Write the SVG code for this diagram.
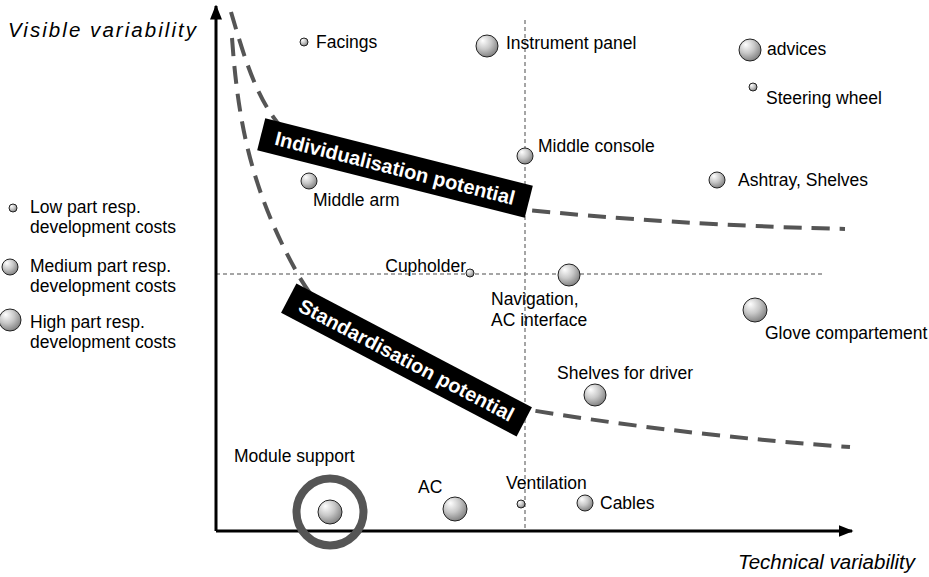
<svg xmlns="http://www.w3.org/2000/svg" width="929" height="577" viewBox="0 0 929 577">
<defs>
<radialGradient id="ball" cx="0.4" cy="0.35" r="0.7" fx="0.3" fy="0.25">
<stop offset="0" stop-color="#ffffff"/>
<stop offset="0.5" stop-color="#c8c8c8"/>
<stop offset="1" stop-color="#7a7a7a"/>
</radialGradient>
<marker id="arr" viewBox="0 0 10 10" refX="9" refY="5" markerWidth="5" markerHeight="5" orient="auto" markerUnits="strokeWidth">
<path d="M0,1 L10,5 L0,9 Z" fill="#000"/>
</marker>
<style>
.b{fill:url(#ball);stroke:#222;stroke-width:1}
.t{font-family:"Liberation Sans",Arial,sans-serif;font-size:17.5px;fill:#000}
.ax{font-family:"Liberation Sans",Arial,sans-serif;font-size:20.5px;font-style:italic;fill:#000}
.lbl{font-family:"Liberation Sans",Arial,sans-serif;font-size:20px;font-weight:bold;fill:#fff}
.dot{stroke:#888;stroke-width:1.5;stroke-dasharray:4 3;fill:none}
.dash{stroke:#555;stroke-width:4;stroke-dasharray:18 10;fill:none}
.axis{stroke:#000;stroke-width:3;fill:none}
</style>
</defs>
<rect width="929" height="577" fill="#fff"/>

<g id="connectors">
<line class="dot" x1="525" y1="20" x2="525" y2="531"/>
<line class="dot" x1="216" y1="274" x2="822" y2="274"/>
<path class="dash" d="M231,12 C245,60 256,95 277,122 C300,150 420,185 527,210 C650,222 760,227 845,229"/>
<path class="dash" d="M232,38 C238,120 250,190 300,278 C350,360 430,395 530,410 C640,428 750,440 850,447"/>
<line class="axis" x1="216" y1="531" x2="216" y2="6" marker-end="url(#arr)"/>
<line class="axis" x1="216" y1="531" x2="852" y2="531" marker-end="url(#arr)"/>
</g>

<g id="axis-titles">
<text class="ax" x="8" y="37" font-size="21.5" textLength="188" lengthAdjust="spacing">Visible variability</text>
<text class="ax" x="738" y="569">Technical variability</text>
</g>

<g id="individualisation">
<g transform="translate(395,168) rotate(14.2)">
<rect x="-138" y="-16.5" width="276" height="33" fill="#000"/>
<text class="lbl" x="0" y="7" text-anchor="middle">Individualisation potential</text>
</g>
</g>

<g id="standardisation">
<g transform="translate(406.5,360) rotate(27.7)">
<rect x="-133" y="-16.5" width="266" height="33" fill="#000"/>
<text class="lbl" x="0" y="7" text-anchor="middle">Standardisation potential</text>
</g>
</g>

<g id="legend">
<circle class="b" cx="13" cy="208" r="4"/>
<text class="t" x="30" y="213">Low part resp.</text>
<text class="t" x="30" y="233">development costs</text>
<circle class="b" cx="10" cy="267" r="8"/>
<text class="t" x="30" y="272">Medium part resp.</text>
<text class="t" x="30" y="292">development costs</text>
<circle class="b" cx="10" cy="320" r="11"/>
<text class="t" x="30" y="328">High part resp.</text>
<text class="t" x="30" y="348">development costs</text>
</g>

<g id="facings"><circle class="b" cx="304" cy="42" r="4"/><text class="t" x="316" y="48">Facings</text></g>
<g id="instrument-panel"><circle class="b" cx="487" cy="46" r="11"/><text class="t" x="506" y="49">Instrument panel</text></g>
<g id="advices"><circle class="b" cx="750" cy="50" r="11"/><text class="t" x="767" y="55">advices</text></g>
<g id="steering-wheel"><circle class="b" cx="753" cy="87" r="4"/><text class="t" x="766" y="104">Steering wheel</text></g>
<g id="middle-console"><circle class="b" cx="525" cy="156" r="8"/><text class="t" x="538" y="152">Middle console</text></g>
<g id="middle-arm"><circle class="b" cx="309" cy="181" r="8"/><text class="t" x="313" y="206">Middle arm</text></g>
<g id="ashtray"><circle class="b" cx="717" cy="180" r="8"/><text class="t" x="738" y="186">Ashtray, Shelves</text></g>
<g id="cupholder"><circle class="b" cx="470" cy="273" r="4"/><text class="t" x="466" y="272" text-anchor="end">Cupholder</text></g>
<g id="navigation"><circle class="b" cx="569" cy="275" r="11"/><text class="t" x="491" y="305">Navigation,</text><text class="t" x="491" y="326">AC interface</text></g>
<g id="glove"><circle class="b" cx="755" cy="310" r="12"/><text class="t" x="765" y="339">Glove compartement</text></g>
<g id="shelves-driver"><circle class="b" cx="595" cy="395" r="11"/><text class="t" x="557" y="379">Shelves for driver</text></g>
<g id="module-support"><text class="t" x="234" y="462">Module support</text><circle class="b" cx="330" cy="512" r="12"/><circle cx="330" cy="512" r="33.5" fill="none" stroke="#555" stroke-width="8"/></g>
<g id="ac"><circle class="b" cx="455" cy="509" r="12"/><text class="t" x="418" y="493">AC</text></g>
<g id="ventilation"><circle class="b" cx="521" cy="504" r="4"/><text class="t" x="506" y="489">Ventilation</text></g>
<g id="cables"><circle class="b" cx="585" cy="503" r="8"/><text class="t" x="600" y="509">Cables</text></g>
</svg>
